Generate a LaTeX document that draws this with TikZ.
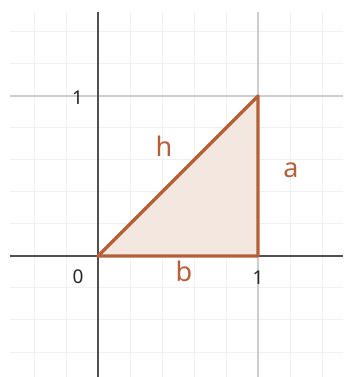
\documentclass[tikz,border=0pt]{standalone}
\usepackage{fontspec}
\setmainfont{Noto Sans}
\definecolor{minorgrid}{RGB}{240,240,240}
\definecolor{majorgrid}{RGB}{205,205,205}
\definecolor{axiscol}{RGB}{80,80,80}
\definecolor{tri}{RGB}{181,96,56}
\definecolor{trifill}{RGB}{243,231,224}
\begin{document}
\begin{tikzpicture}[x=160pt,y=160pt,
  minor/.style={draw=minorgrid,line width=1pt},
  major/.style={draw=majorgrid,line width=1.2pt},
  axis/.style={draw=axiscol,line width=1.8pt},
  edge/.style={draw=tri,line width=3.4pt,line cap=round,line join=round},
  ticklab/.style={text=black!85,font=\fontsize{19}{19}\selectfont,inner sep=0pt},
  seglab/.style={text=tri,font=\fontsize{27}{27}\selectfont,inner sep=0pt}]
\useasboundingbox (-0.6125,-0.75625) rectangle (1.53125,1.6);
\fill[white] (-0.6125,-0.75625) rectangle (1.53125,1.6);
% minor grid
\foreach \x in {-0.4,-0.2,0.2,0.4,0.6,0.8,1.2,1.4}
  \draw[minor] (\x,-0.75625) -- (\x,1.525);
\foreach \y in {-0.6,-0.4,-0.2,0.2,0.4,0.6,0.8,1.2,1.4}
  \draw[minor] (-0.55,\y) -- (1.53125,\y);
% major grid
\draw[major] (1,-0.75625) -- (1,1.525);
\draw[major] (-0.55,1) -- (1.53125,1);
% axes
\draw[axis] (-0.55,0) -- (1.53125,0);
\draw[axis] (0,-0.75625) -- (0,1.525);
% triangle
\coordinate (O) at (0,0);
\coordinate (B) at (1,0);
\coordinate (C) at (1,1);
\fill[trifill] (O) -- (B) -- (C) -- cycle;
\draw[edge] (O) -- (B) -- (C) -- cycle;
% labels
\node[seglab] (h) at (0.4125,0.6875) {h};
\node[seglab] (a) at (1.20625,0.5375) {a};
\node[seglab] (b) at (0.5375,-0.097) {b};
\node[ticklab] (y1) at (-0.128,0.99) {1};
\node[ticklab] (x0) at (-0.125,-0.131) {0};
\node[ticklab] (x1) at (1.0,-0.134) {1};
\end{tikzpicture}
\end{document}
